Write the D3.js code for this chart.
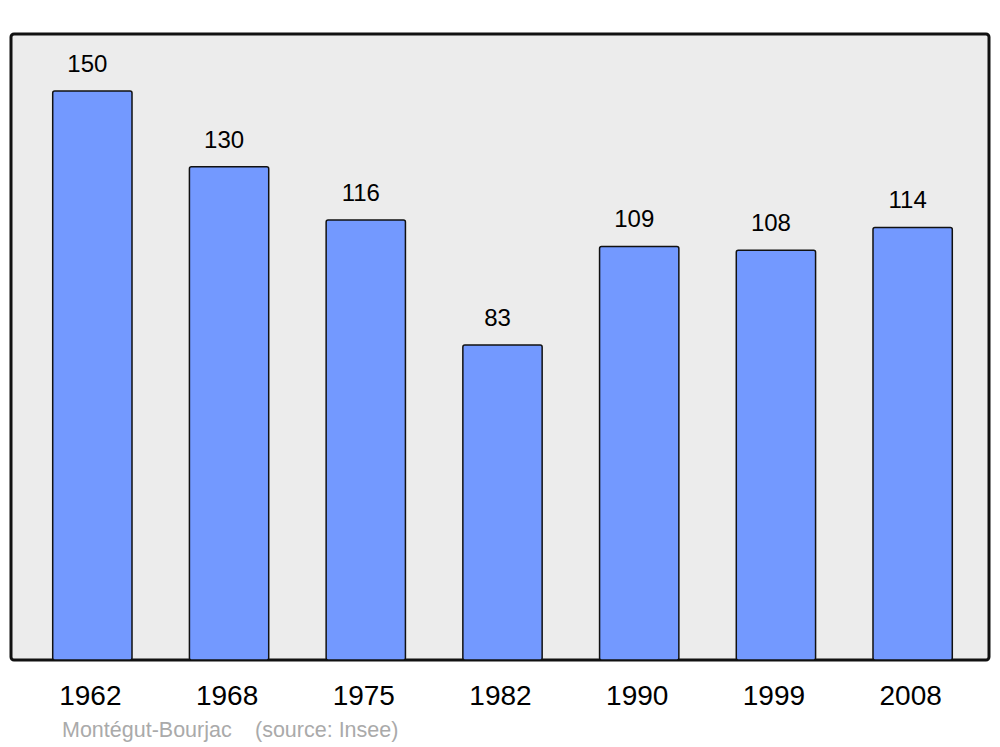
<!DOCTYPE html>
<html>
<head>
<meta charset="utf-8">
<script src="https://cdn.jsdelivr.net/npm/d3@7"></script>
<style>
  body { margin: 0; background: #fff; }
  svg { display: block; font-family: "Liberation Sans", Arial, sans-serif; }
</style>
</head>
<body>
<svg id="chart" width="1000" height="747"></svg>
<script>
const years = ["1962", "1968", "1975", "1982", "1990", "1999", "2008"];
const population = [150, 130, 116, 83, 109, 108, 114];
const commune = "Montégut-Bourjac";
const source = "(source: Insee)";

const data = years.map((y, i) => ({year: y, value: population[i]}));

const svg = d3.select("#chart");

const panel = {left: 11, top: 34, right: 989, bottom: 660};

const x = d3.scaleBand()
    .domain(years)
    .range([24, 981])
    .paddingInner(0.42)
    .paddingOuter(0.21);

const y = d3.scaleLinear()
    .domain([0, 165])
    .range([panel.bottom, panel.top]);

svg.append("rect")
    .attr("x", panel.left)
    .attr("y", panel.top)
    .attr("width", panel.right - panel.left)
    .attr("height", panel.bottom - panel.top)
    .attr("rx", 3)
    .attr("fill", "#ececec")
    .attr("stroke", "#111")
    .attr("stroke-width", 3);

svg.selectAll("rect.bar")
    .data(data)
    .join("rect")
    .attr("class", "bar")
    .attr("x", d => x(d.year))
    .attr("y", d => y(d.value))
    .attr("width", x.bandwidth())
    .attr("height", d => y(0) - y(d.value))
    .attr("rx", 2)
    .attr("fill", "#7399ff")
    .attr("stroke", "#111")
    .attr("stroke-width", 1.5);

svg.selectAll("text.val")
    .data(data)
    .join("text")
    .attr("class", "val")
    .attr("x", d => x(d.year) + x.bandwidth() / 2 - 5)
    .attr("y", d => y(d.value) - 19)
    .attr("text-anchor", "middle")
    .style("font-size", "24px")
    .attr("fill", "#000")
    .text(d => d.value);

svg.selectAll("text.year")
    .data(data)
    .join("text")
    .attr("class", "year")
    .attr("x", d => x(d.year) + x.bandwidth() / 2 - 2)
    .attr("y", 705)
    .attr("text-anchor", "middle")
    .style("font-size", "28px")
    .attr("fill", "#000")
    .text(d => d.year);

const foot = svg.append("text")
    .attr("x", 62)
    .attr("y", 737)
    .style("font-size", "21.5px")
    .attr("fill", "#aaa");
foot.append("tspan").text(commune);
foot.append("tspan").attr("x", 255).text(source);
</script>
</body>
</html>
